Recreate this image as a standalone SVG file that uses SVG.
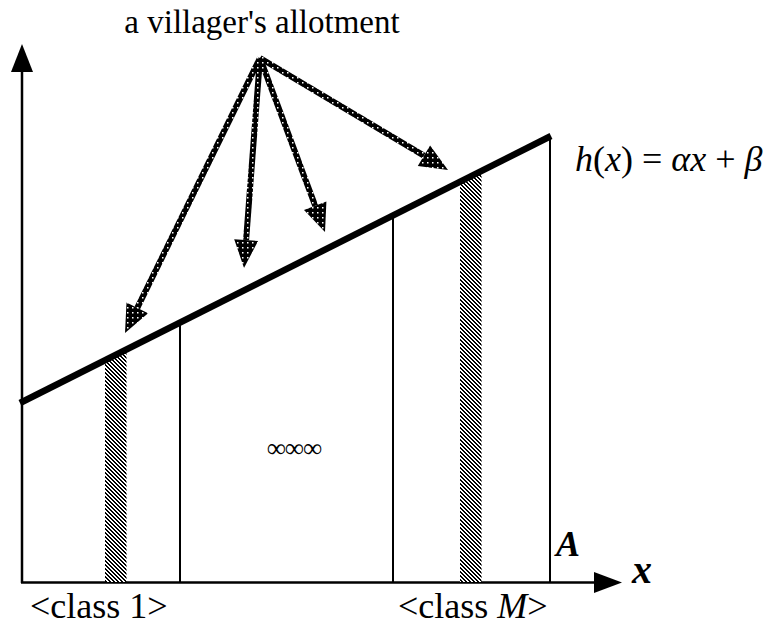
<svg xmlns="http://www.w3.org/2000/svg" width="776" height="627" viewBox="0 0 776 627">
<style>
text{font-family:"Liberation Serif","Times New Roman","DejaVu Serif",serif;fill:#000}
.ax{stroke:#000;stroke-width:2.5;fill:none}
.thin{stroke:#000;stroke-width:2;fill:none}
.shaft{stroke:url(#dots);stroke-width:6;fill:none}
.head{fill:url(#dots)}
</style>
<defs>
<pattern id="hatch" patternUnits="userSpaceOnUse" width="4" height="4">
<rect width="4" height="4" fill="#fff"/>
<g fill="#000" shape-rendering="crispEdges">
<rect x="0" y="0" width="2" height="1"/>
<rect x="1" y="1" width="2" height="1"/>
<rect x="2" y="2" width="2" height="1"/>
<rect x="3" y="3" width="1" height="1"/>
<rect x="0" y="3" width="1" height="1"/>
</g>
</pattern>
<pattern id="dots" patternUnits="userSpaceOnUse" width="5" height="5">
<rect width="5" height="5" fill="#000"/>
<rect x="2" y="2" width="1.5" height="1.5" fill="#fff"/>
</pattern>
</defs>
<rect width="776" height="627" fill="#fff"/>

<g id="axes">
<line class="ax" x1="22" y1="583" x2="22" y2="70"/>
<polygon points="22,44 11,72 33,72" fill="#000"/>
<line class="ax" x1="21" y1="582.5" x2="596" y2="582.5"/>
<polygon points="622,582.5 594,572 594,593" fill="#000"/>
</g>

<g id="bars">
<polygon points="105,361 126.5,350 126.5,582 105,582" fill="url(#hatch)"/>
<polygon points="460,182 481.5,171 481.5,582 460,582" fill="url(#hatch)"/>
</g>

<g id="dividers">
<line class="thin" x1="180" y1="322" x2="180" y2="582"/>
<line class="thin" x1="393" y1="215" x2="393" y2="582"/>
<line class="thin" x1="550" y1="136" x2="550" y2="582"/>
</g>

<g id="hline">
<line x1="20" y1="403" x2="551" y2="136" stroke="#000" stroke-width="6.5"/>
</g>

<g id="connectors">
<line class="shaft" x1="260" y1="58" x2="137.3" y2="307.9"/>
<polygon class="head" points="125,333 148.1,313.2 126.5,302.6"/>
<line class="shaft" x1="260" y1="58" x2="246.1" y2="240.1"/>
<polygon class="head" points="244,268 258.1,241 234.2,239.2"/>
<line class="shaft" x1="260" y1="58" x2="315.2" y2="205.8"/>
<polygon class="head" points="325,232 326.4,201.6 304,210"/>
<line class="shaft" x1="260" y1="58" x2="423.9" y2="155.7"/>
<polygon class="head" points="448,170 430.1,145.4 417.8,166"/>
</g>

<g id="labels">
<text font-family="Liberation Serif, serif" x="262" y="33" font-size="33" text-anchor="middle">a villager's allotment</text>
<text font-family="Liberation Serif, serif" x="575" y="171" font-size="36"><tspan font-style="italic">h</tspan>(<tspan font-style="italic">x</tspan>) = <tspan font-style="italic">αx</tspan> + <tspan font-style="italic">β</tspan></text>
<text font-family="Liberation Serif, serif" x="556" y="556" font-size="36" font-weight="bold" font-style="italic">A</text>
<text font-family="Liberation Serif, serif" x="632" y="583" font-size="40" font-weight="bold" font-style="italic">x</text>
<text font-family="Liberation Serif, serif" x="30" y="618" font-size="36">&lt;class 1&gt;</text>
<text font-family="Liberation Serif, serif" x="398" y="618" font-size="36">&lt;class <tspan font-style="italic">M</tspan>&gt;</text>
<text font-family="Liberation Serif, serif" x="294" y="457" font-size="27" text-anchor="middle" letter-spacing="-1">∞∞∞</text>
</g>
</svg>
